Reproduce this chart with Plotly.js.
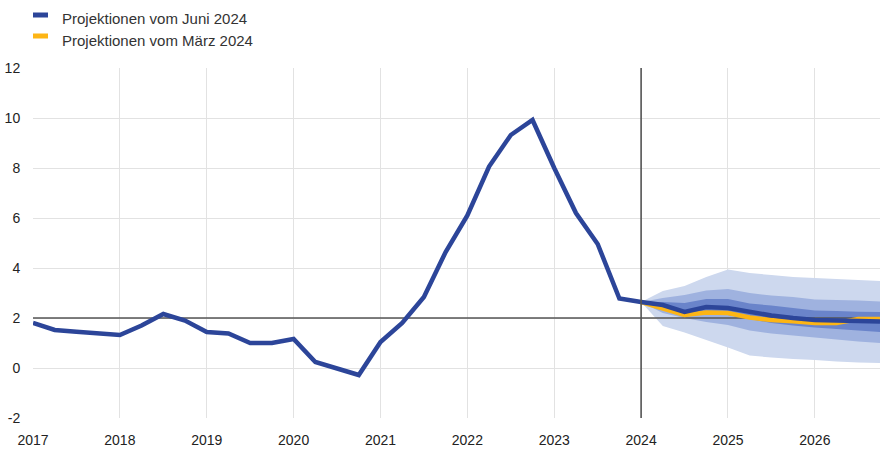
<!DOCTYPE html>
<html><head><meta charset="utf-8">
<script src="https://cdn.plot.ly/plotly-3.0.1.min.js"></script>
<style>html,body{margin:0;padding:0;background:#fff}#chart{width:890px;height:450px}</style>
</head><body><div id="chart"></div>
<script>
// ---- Data ----
const histQuarters = ["2017Q1","2017Q2","2017Q3","2017Q4","2018Q1","2018Q2","2018Q3","2018Q4",
  "2019Q1","2019Q2","2019Q3","2019Q4","2020Q1","2020Q2","2020Q3","2020Q4",
  "2021Q1","2021Q2","2021Q3","2021Q4","2022Q1","2022Q2","2022Q3","2022Q4",
  "2023Q1","2023Q2","2023Q3","2023Q4","2024Q1"];
const histValues = [1.80,1.52,1.45,1.38,1.32,1.70,2.16,1.90,
  1.44,1.38,1.00,1.00,1.16,0.24,0.00,-0.28,
  1.04,1.80,2.84,4.64,6.10,8.06,9.32,9.92,
  8.00,6.20,4.96,2.78,2.64];

const projQuarters = ["2024Q1","2024Q2","2024Q3","2024Q4","2025Q1","2025Q2","2025Q3","2025Q4",
  "2026Q1","2026Q2","2026Q3","2026Q4"];
const juneProj  = [2.64,2.52,2.24,2.44,2.40,2.24,2.10,2.00,1.92,1.90,1.86,1.86];
const marchProj = [2.64,2.40,2.12,2.22,2.20,2.02,1.92,1.87,1.80,1.80,1.96,1.96];

const outerUpper  = [2.64,3.08,3.28,3.64,3.94,3.80,3.72,3.64,3.60,3.56,3.52,3.48];
const outerLower  = [2.64,1.68,1.42,1.12,0.82,0.50,0.42,0.36,0.32,0.26,0.22,0.20];
const middleUpper = [2.64,2.80,2.92,3.10,3.16,3.00,2.90,2.84,2.74,2.72,2.70,2.66];
const middleLower = [2.64,2.20,2.00,1.84,1.72,1.50,1.38,1.30,1.22,1.14,1.06,1.00];
const innerUpper  = [2.64,2.64,2.60,2.76,2.76,2.58,2.50,2.40,2.30,2.28,2.25,2.24];
const innerLower  = [2.64,2.44,2.20,2.20,2.12,1.96,1.80,1.70,1.62,1.56,1.50,1.44];

const yearTicks = ["2017","2018","2019","2020","2021","2022","2023","2024","2025","2026"];
const yTicks = [-2,0,2,4,6,8,10,12];
const legendLabels = ["Projektionen vom Juni 2024","Projektionen vom März 2024"];
const targetLevel = 2;
const projectionStart = "2024Q1";

// ---- Helpers ----
function toYear(q){ const p=q.split("Q"); return Number(p[0]) + (Number(p[1])-1)/4; }
const hx = histQuarters.map(toYear);
const px = projQuarters.map(toYear);
const xMin = toYear(histQuarters[0]), xMax = toYear(projQuarters[projQuarters.length-1]);
function band(upper, lower, color){
  return {type:"scatter", mode:"none", fill:"toself", fillcolor:color, hoverinfo:"skip", showlegend:false,
    x: px.concat(px.slice().reverse()), y: upper.concat(lower.slice().reverse())};
}
const BLUE = "#2c4599", ORANGE = "#fdb515";
const traces = [
  band(outerUpper, outerLower, "#cdd8ee"),
  band(middleUpper, middleLower, "#9fb2df"),
  band(innerUpper, innerLower, "#6a84ca"),
  {type:"scatter", mode:"lines", x:[xMin,xMax], y:[targetLevel,targetLevel], line:{color:"#555",width:1.3}, hoverinfo:"skip", showlegend:false},
  {type:"scatter", mode:"lines", x:px, y:marchProj, line:{color:ORANGE,width:4.5}, hoverinfo:"skip", showlegend:false},
  {type:"scatter", mode:"lines", x:px, y:juneProj, line:{color:BLUE,width:4.5}, hoverinfo:"skip", showlegend:false},
  {type:"scatter", mode:"lines", x:hx, y:histValues, line:{color:BLUE,width:4.5}, hoverinfo:"skip", showlegend:false}
];

const L=33, R=10, T=68, B=32, W=890, H=450;
const pw = W-L-R, ph = H-T-B;
const pxX = v => (v-L)/pw;
const pxY = v => (H-B-v)/ph;
const font = {family:"Liberation Sans, Arial, sans-serif", size:14, color:"#222"};
const legFont = {family:"Liberation Sans, Arial, sans-serif", size:15, color:"#333"};

const layout = {
  width:W, height:H, margin:{l:L,r:R,t:T,b:B}, paper_bgcolor:"#fff", plot_bgcolor:"#fff",
  font: font, showlegend:false,
  xaxis:{range:[xMin, xMax], tickvals: yearTicks.map(Number), ticktext: yearTicks,
    showgrid:true, gridcolor:"#e2e2e2", gridwidth:1, zeroline:false, showline:false,
    ticks:"outside", ticklen:9, tickcolor:"rgba(0,0,0,0)", tickfont:font, fixedrange:true},
  yaxis:{range:[-2,12], tickvals:yTicks, ticktext:yTicks.map(String),
    showgrid:true, gridcolor:"#e2e2e2", gridwidth:1, zeroline:false, showline:false,
    ticks:"outside", ticklen:9, tickcolor:"rgba(0,0,0,0)", tickfont:font, fixedrange:true},
  shapes:[
    {type:"line", xref:"x", x0:toYear(projectionStart), x1:toYear(projectionStart), yref:"paper", y0:0, y1:1, line:{color:"#555",width:1.6}},
    {type:"rect", xref:"paper", yref:"paper", x0:pxX(33), x1:pxX(48), y0:pxY(17.5), y1:pxY(12.5), fillcolor:BLUE, line:{width:0}},
    {type:"rect", xref:"paper", yref:"paper", x0:pxX(33), x1:pxX(48), y0:pxY(38.5), y1:pxY(33.5), fillcolor:ORANGE, line:{width:0}}
  ],
  annotations:[
    {xref:"paper", yref:"paper", x:pxX(60), y:pxY(18.5), xanchor:"left", yanchor:"middle", showarrow:false, text:legendLabels[0], font:legFont},
    {xref:"paper", yref:"paper", x:pxX(60), y:pxY(40.5), xanchor:"left", yanchor:"middle", showarrow:false, text:legendLabels[1], font:legFont}
  ]
};
Plotly.newPlot("chart", traces, layout, {displayModeBar:false, staticPlot:true});
</script></body></html>
